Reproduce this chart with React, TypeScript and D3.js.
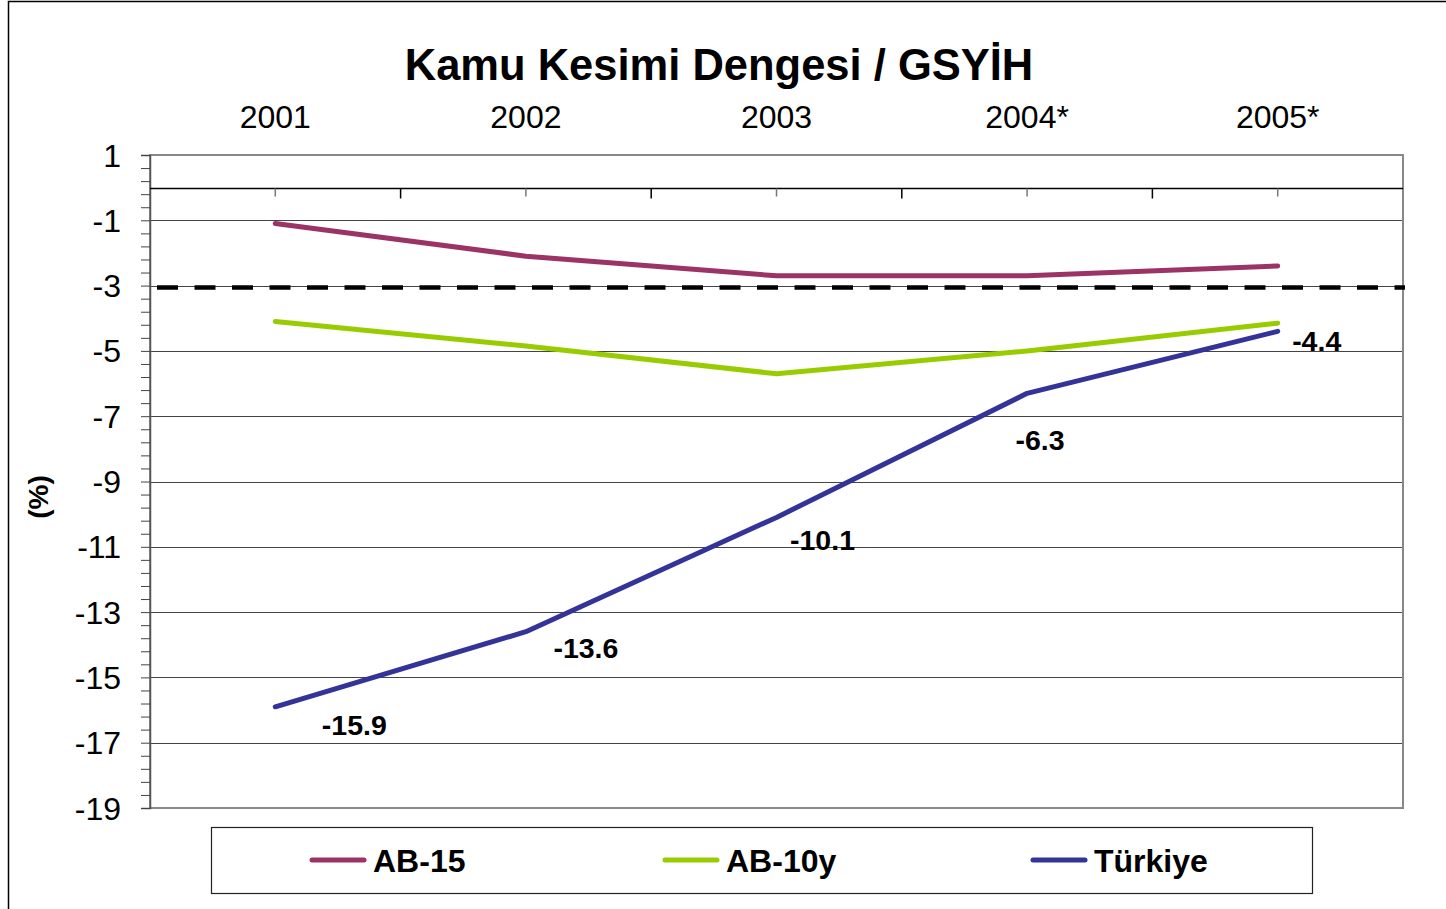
import * as d3 from "d3";
import { useEffect, useRef } from "react";

const years = ["2001", "2002", "2003", "2004*", "2005*"];
const ab15 = [-1.1, -2.1, -2.7, -2.7, -2.4];
const ab10y = [-4.1, -4.85, -5.7, -5.0, -4.15];
const turkiye = [-15.9, -13.6, -10.1, -6.3, -4.4];
const yTicks = [1, -1, -3, -5, -7, -9, -11, -13, -15, -17, -19];
const limit = -3;

// hand-placed label offsets (px) for the Türkiye values
const labelDx = [79, 60, 46, 13, 39];
const labelDy = [18, 16, 22, 46, 9];

const series = [
  { name: "AB-15", values: ab15, color: "#9b3366" },
  { name: "AB-10y", values: ab10y, color: "#99cc00" },
  { name: "Türkiye", values: turkiye, color: "#333399" },
];

export default function App() {
  const ref = useRef<SVGSVGElement>(null);

  useEffect(() => {
    const width = 1446;
    const height = 909;
    const left = 150, right = 1403, top = 155, bottom = 808;

    const svg = d3.select(ref.current);
    svg.selectAll("*").remove();
    svg.attr("width", width).attr("height", height);
    svg.style("font-family", "Arial, 'Liberation Sans', sans-serif");

    svg.append("rect").attr("width", width).attr("height", height).attr("fill", "#fff");
    // outer frame
    svg.append("rect")
      .attr("x", 8.5).attr("y", 1.5).attr("width", 1460).attr("height", 930)
      .attr("fill", "none").attr("stroke", "#000").attr("stroke-width", 1.5);

    const x = d3.scaleBand().domain(years).range([left, right]);
    const cx = (i: number) => x(years[i])! + x.bandwidth() / 2;
    const y = d3.scaleLinear().domain([-19, 1]).range([bottom, top]);

    svg.append("text")
      .attr("x", 719).attr("y", 80)
      .attr("text-anchor", "middle")
      .attr("font-size", 43.5).attr("font-weight", "bold")
      .text("Kamu Kesimi Dengesi / GSYİH");

    // grid
    svg.append("g").selectAll("line")
      .data(yTicks.filter(v => v !== 1 && v !== -19))
      .enter().append("line")
      .attr("x1", left).attr("x2", right)
      .attr("y1", d => Math.round(y(d)) + 0.5).attr("y2", d => Math.round(y(d)) + 0.5)
      .attr("stroke", "#444").attr("stroke-width", 1);

    // plot frame
    svg.append("rect")
      .attr("x", left).attr("y", top).attr("width", right - left).attr("height", bottom - top)
      .attr("fill", "none").attr("stroke", "#888").attr("stroke-width", 2);

    // y axis with minor ticks
    const yAxis = svg.append("g").attr("transform", `translate(${left},0)`);
    yAxis.call(
      d3.axisLeft(y).tickValues(d3.range(-19, 1.01, 0.4)).tickSize(9).tickFormat(() => "")
    );
    yAxis.select(".domain").attr("stroke", "#555").attr("stroke-width", 1.5);
    yAxis.selectAll(".tick line").attr("stroke", "#444");
    yAxis.selectAll("text").remove();

    svg.append("g").selectAll("text")
      .data(yTicks)
      .enter().append("text")
      .attr("x", 121).attr("y", d => y(d))
      .attr("dy", "0.36em")
      .attr("text-anchor", "end")
      .attr("font-size", 32)
      .text(d => String(d));

    // category axis at zero
    const y0 = Math.round(y(0)) + 0.5;
    svg.append("line")
      .attr("x1", left).attr("x2", right).attr("y1", y0).attr("y2", y0)
      .attr("stroke", "#000").attr("stroke-width", 1.5);
    svg.append("g").selectAll("line")
      .data(years.slice(1))
      .enter().append("line")
      .attr("x1", d => x(d)!).attr("x2", d => x(d)!)
      .attr("y1", y0).attr("y2", y0 + 10)
      .attr("stroke", "#000").attr("stroke-width", 1.5);
    svg.append("g").selectAll("line")
      .data(years)
      .enter().append("line")
      .attr("x1", (_, i) => cx(i)).attr("x2", (_, i) => cx(i))
      .attr("y1", y0).attr("y2", y0 + 8)
      .attr("stroke", "#777").attr("stroke-width", 1.5);

    svg.append("g").selectAll("text")
      .data(years)
      .enter().append("text")
      .attr("x", (_, i) => cx(i)).attr("y", 128)
      .attr("text-anchor", "middle")
      .attr("font-size", 32)
      .text(d => d);

    // -3 reference line
    svg.append("line")
      .attr("x1", left + 7).attr("x2", right + 2)
      .attr("y1", y(limit) + 2).attr("y2", y(limit) + 2)
      .attr("stroke", "#000").attr("stroke-width", 4.5)
      .attr("stroke-dasharray", "21 16.5");

    const line = d3.line<number>()
      .x((_, i) => cx(i))
      .y(d => y(d));

    series.forEach(s => {
      svg.append("path")
        .datum(s.values)
        .attr("d", line)
        .attr("fill", "none")
        .attr("stroke", s.color)
        .attr("stroke-width", 5)
        .attr("stroke-linecap", "round")
        .attr("stroke-linejoin", "round");
    });

    svg.append("g").selectAll("text")
      .data(turkiye)
      .enter().append("text")
      .attr("x", (_, i) => cx(i) + labelDx[i])
      .attr("y", (d, i) => y(d) + labelDy[i])
      .attr("dy", "0.36em")
      .attr("text-anchor", "middle")
      .attr("font-size", 28.5).attr("font-weight", "bold")
      .text(d => d.toFixed(1));

    // legend
    svg.append("rect")
      .attr("x", 211.5).attr("y", 827.5).attr("width", 1101).attr("height", 66)
      .attr("fill", "#fff").attr("stroke", "#222").attr("stroke-width", 1.2);
    const legendX = [310, 663, 1031];
    series.forEach((s, i) => {
      const g = svg.append("g").attr("transform", `translate(${legendX[i]},860)`);
      g.append("line")
        .attr("x1", 2).attr("x2", 54).attr("y1", 0).attr("y2", 0)
        .attr("stroke", s.color).attr("stroke-width", 5).attr("stroke-linecap", "round");
      g.append("text")
        .attr("x", 63).attr("y", 0).attr("dy", "0.36em")
        .attr("font-size", 32).attr("font-weight", "bold")
        .text(s.name);
    });

    // y title
    svg.append("text")
      .attr("transform", "translate(38,497) rotate(-90)")
      .attr("dy", "0.36em")
      .attr("text-anchor", "middle")
      .attr("font-size", 28).attr("font-weight", "bold")
      .text("(%)");
  }, []);

  return (
    <svg ref={ref} style={{ position: "absolute", left: 0, top: 0, display: "block" }} />
  );
}
